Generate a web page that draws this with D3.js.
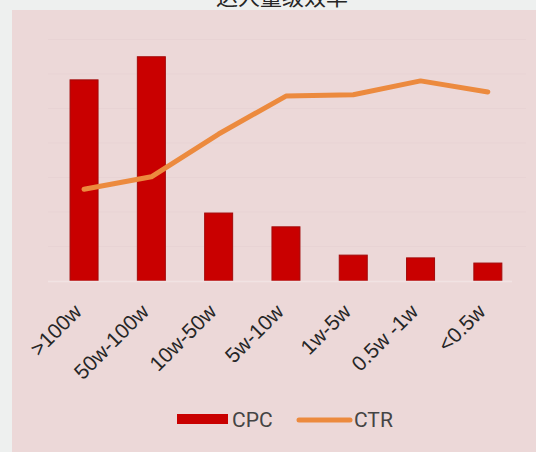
<!DOCTYPE html>
<html>
<head>
<meta charset="utf-8">
<script src="https://cdn.jsdelivr.net/npm/d3@7"></script>
<style>
  html, body { margin: 0; padding: 0; background: #eef0ef; }
  svg { display: block; }
</style>
</head>
<body>
<svg id="chart" width="536" height="452"></svg>
<script>
// Follower tiers (w = 万, i.e. 10k followers)
const categories = [">100w", "50w-100w", "10w-50w", "5w-10w", "1w-5w", "0.5w -1w", "<0.5w"];
// Cost per click (left, hidden axis)
const cpcValues = [5.83, 6.50, 1.97, 1.57, 0.75, 0.67, 0.52];
// Click-through rate, % (right, hidden axis)
const ctrValues = [1.33, 1.51, 2.13, 2.68, 2.70, 2.90, 2.74];
const cpcTicks = [0, 1, 2, 3, 4, 5, 6, 7];
const titleText = "达人量级效率";
const legendItems = ["CPC", "CTR"];

const W = 536, H = 452;
const svg = d3.select("#chart");

const colors = { bar: "#c90000", barEdge: "#a30a0a", line: "#ec8a3e", panel: "#ecd8d8", text: "#262626" };

// Background panel
svg.append("rect").attr("x", 12).attr("y", 10).attr("width", W - 12).attr("height", H - 10)
  .attr("fill", colors.panel);

// Title (sits at the very top edge)
svg.append("text").attr("x", 282).attr("y", 5).attr("text-anchor", "middle")
  .attr("font-family", "'Noto Sans CJK SC', sans-serif").attr("font-size", 22)
  .attr("fill", colors.text).text(titleText);

const x = d3.scaleBand().domain(categories).range([50.4, 521.5])
  .paddingInner(0.584).paddingOuter(0.292);
const y = d3.scaleLinear().domain([0, 7]).range([281, 39.5]);
const y2 = d3.scaleLinear().domain([0, 3.5]).range([281, 39.5]);

// Faint gridlines
svg.append("g").selectAll("line").data(cpcTicks.slice(1)).join("line")
  .attr("x1", 48).attr("x2", 526)
  .attr("y1", d => y(d)).attr("y2", d => y(d))
  .attr("stroke", "#e8d3d4").attr("stroke-width", 1);

// Bars
svg.append("g").selectAll("rect").data(categories).join("rect")
  .attr("x", d => x(d))
  .attr("y", (d, i) => y(cpcValues[i]))
  .attr("width", x.bandwidth())
  .attr("height", (d, i) => y(0) - y(cpcValues[i]))
  .attr("fill", colors.bar)
  .attr("stroke", colors.barEdge).attr("stroke-width", 1);

// Category axis
const xAxis = svg.append("g").attr("transform", `translate(0,${y(0)})`)
  .call(d3.axisBottom(x).tickSize(0).tickPadding(0));
xAxis.select(".domain").attr("d", "M48,0.5H512").attr("stroke", "#f1e3e3").attr("stroke-width", 1.5);
xAxis.selectAll("text")
  .attr("font-family", "'Liberation Sans', Arial, sans-serif")
  .attr("font-size", 21)
  .attr("fill", colors.text)
  .attr("text-anchor", "end")
  .attr("dy", 0)
  .attr("transform", "translate(-1,32) rotate(-45)");

// CTR line
const line = d3.line()
  .x((d, i) => x(categories[i]) + x.bandwidth() / 2)
  .y(d => y2(d));
svg.append("path").datum(ctrValues)
  .attr("d", line)
  .attr("fill", "none")
  .attr("stroke", colors.line)
  .attr("stroke-width", 5)
  .attr("stroke-linejoin", "round")
  .attr("stroke-linecap", "round");

// Legend
const lg = svg.append("g").attr("font-family", "Roboto, sans-serif").attr("font-size", 21).attr("fill", "#444");
lg.append("rect").attr("x", 177).attr("y", 414).attr("width", 51).attr("height", 10).attr("fill", colors.bar);
lg.append("text").attr("x", 232).attr("y", 427).text(legendItems[0]);
lg.append("line").attr("x1", 299).attr("x2", 350).attr("y1", 420).attr("y2", 420)
  .attr("stroke", colors.line).attr("stroke-width", 5).attr("stroke-linecap", "round");
lg.append("text").attr("x", 354).attr("y", 427).text(legendItems[1]);
</script>
</body>
</html>
